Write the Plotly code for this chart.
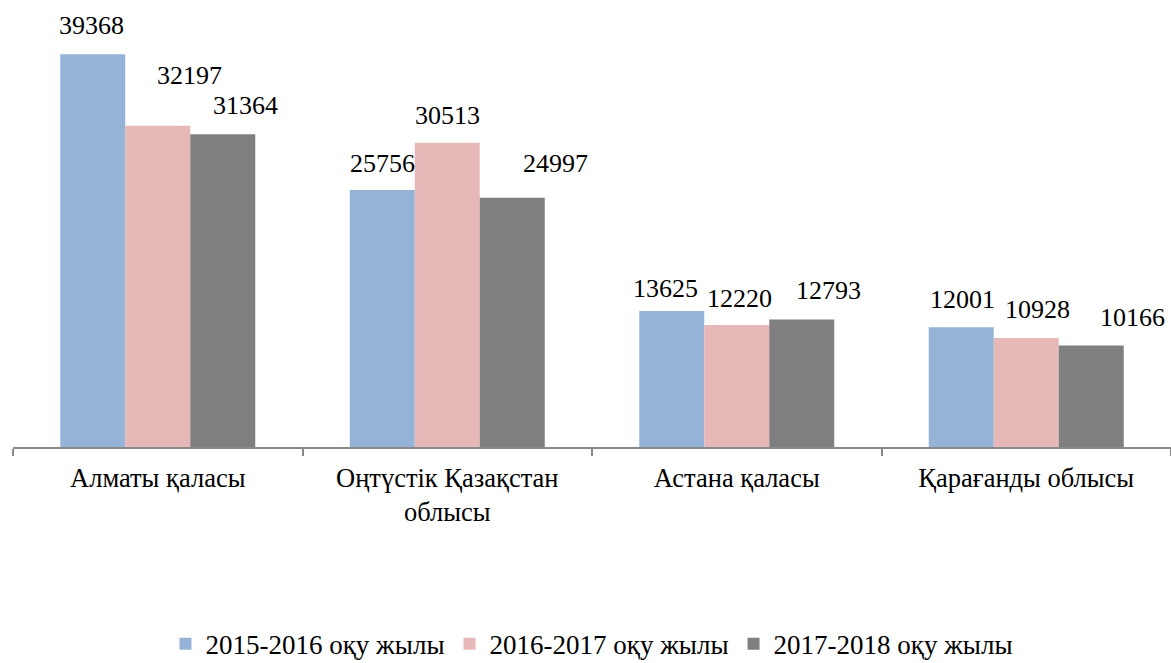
import plotly.graph_objects as go

categories = ["Алматы қаласы", "Оңтүстік Қазақстан<br>облысы", "Астана қаласы", "Қарағанды облысы"]
series_names = ["2015-2016 оқу жылы", "2016-2017 оқу жылы", "2017-2018 оқу жылы"]
v2015 = [39368, 25756, 13625, 12001]
v2016 = [32197, 30513, 12220, 10928]
v2017 = [31364, 24997, 12793, 10166]
colors = ["#95B3D7", "#E6B9B8", "#7F7F7F"]

# manual label nudges (pixels) as placed in the original chart
label_dx = [[-1, 32, 23], [0, 0, 43], [-6, 3, 27], [1, 11, 41]]
label_dy = [[29, 50, 29], [27, 27, 34], [23, 27, 29], [28, 28, 28]]

values = [v2015, v2016, v2017]
FONT = "Liberation Serif, Times New Roman, serif"

W, H = 1171, 663
ML, MR, MT, MB = 13, 0, 48, 216
BARGAP = 0.3265
plot_w = W - ML - MR
bar_px = plot_w / len(categories) * (1 - BARGAP) / len(series_names)

fig = go.Figure()
for name, vals, col in zip(series_names, values, colors):
    fig.add_trace(go.Bar(
        x=categories, y=vals, name=name,
        marker=dict(color=col, line=dict(width=0)),
        cliponaxis=False,
    ))

annotations = []
for si, vals in enumerate(values):
    for ci, v in enumerate(vals):
        annotations.append(dict(
            x=categories[ci], y=v, xref="x", yref="y", text=str(v), showarrow=False,
            xshift=(si - 1) * bar_px + label_dx[ci][si], yshift=label_dy[ci][si],
            xanchor="center", yanchor="middle",
            font=dict(family=FONT, size=26, color="#000000"),
        ))

fig.update_layout(
    width=W, height=H,
    margin=dict(l=ML, r=MR, t=MT, b=MB, autoexpand=False),
    paper_bgcolor="white", plot_bgcolor="white",
    barmode="group", bargap=BARGAP, bargroupgap=0,
    font=dict(family=FONT, size=26, color="#000000"),
    showlegend=True,
    legend=dict(orientation="h", x=0.5, xanchor="center", y=-0.494, yanchor="middle",
                font=dict(family=FONT, size=27), itemwidth=30, traceorder="normal"),
    xaxis=dict(showline=True, linecolor="#898989", linewidth=1.5, ticks="outside",
               tickson="boundaries", ticklen=7, tickcolor="#898989", tickwidth=1.5,
               ticklabelstandoff=6, automargin=False,
               tickfont=dict(family=FONT, size=26.5), showgrid=False),
    yaxis=dict(range=[0, 40000], visible=False, showgrid=False),
    annotations=annotations,
)

fig.write_html(
    "out.html",
    config={"displayModeBar": False},
    post_script="document.body.style.margin='0';document.body.style.overflow='hidden';",
)
